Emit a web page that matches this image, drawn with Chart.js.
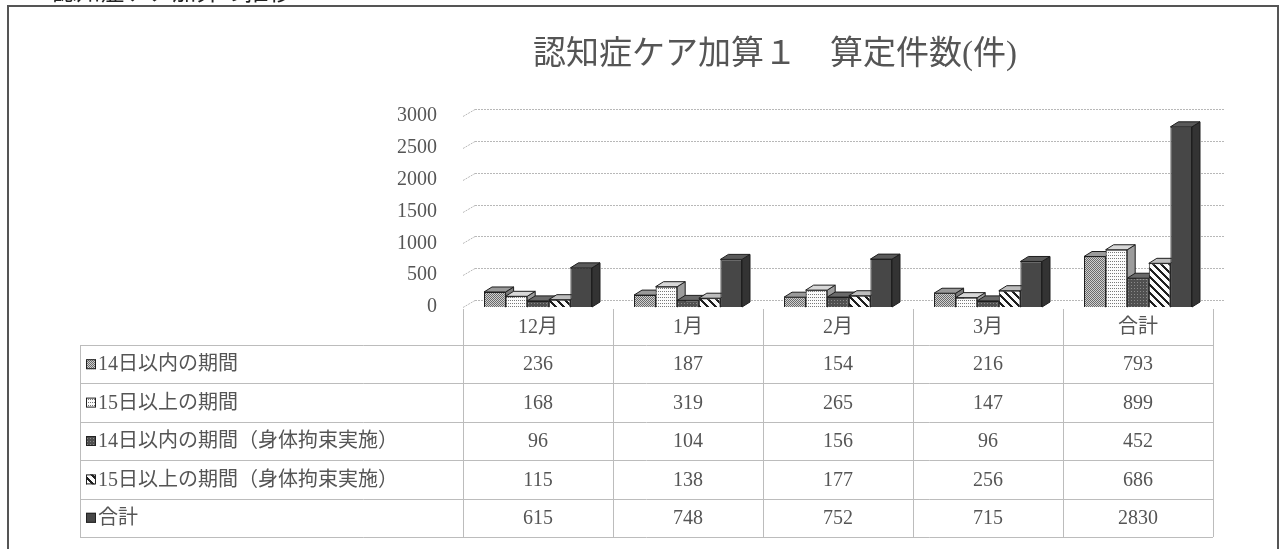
<!DOCTYPE html>
<html><head><meta charset="utf-8">
<script src="https://cdn.jsdelivr.net/npm/chart.js@4/dist/chart.umd.min.js"></script>
<style>html,body{margin:0;padding:0;background:#fff;}canvas{display:block;}</style>
</head><body>
<canvas id="c" width="1284" height="549"></canvas>
<script>
const categories = ['12月','1月','2月','3月','合計'];
const seriesNames = ['14日以内の期間','15日以上の期間','14日以内の期間（身体拘束実施）','15日以上の期間（身体拘束実施）','合計'];
const within14 = [236,187,154,216,793];
const over15 = [168,319,265,147,899];
const within14Restraint = [96,104,156,96,452];
const over15Restraint = [115,138,177,256,686];
const totals = [615,748,752,715,2830];
const seriesValues = [within14, over15, within14Restraint, over15Restraint, totals];
const yMin = 0, yMax = 3000, yStep = 500;
const chartTitle = '認知症ケア加算１　算定件数(件)';
const pageHeading = '1．認知症ケア加算の推移';

const SERIF = '"Liberation Serif","DejaVu Serif","Noto Sans CJK JP",serif';

function makePattern(w,h,fn){
  const cv=document.createElement('canvas');cv.width=w;cv.height=h;
  const g=cv.getContext('2d');
  for(let j=0;j<h;j++)for(let i=0;i<w;i++){const c=fn(i,j);g.fillStyle=c;g.fillRect(i,j,1,1);}
  return g.createPattern(cv,'repeat');
}
const pat1=makePattern(4,4,(i,j)=>((i+j)%2===0)?'#6a6a6a':'#d0d0d0');
const pat2=makePattern(4,3,(i,j)=>(j===0&&i%2===0)?'#777':'#fbfbfb');
const pat3=makePattern(3,3,(i,j)=>(i===0&&j===0)?'#8a8a8a':'#505050');
const pat4=makePattern(8,8,(i,j)=>(((i-j)%8+8)%8<3)?'#1e1e1e':'#fafafa');
const solid5='#474747';
const fills=[pat1,pat2,pat3,pat4,solid5];
const topFills=['#9a9a9a','#d8d8d8','#6a6a6a','#bdbdbd','#5a5a5a'];
const sideFills=['#7a7a7a','#9c9c9c','#3e3e3e','#8c8c8c','#333333'];

const DX=8, DY=5;     // bar depth
const WX=12, WY=7;    // back wall offset

const threeD={
  id:'threeD',
  beforeDatasetsDraw(chart){
    const c=chart.ctx, y=chart.scales.y, x=chart.scales.x;
    c.save();
    c.strokeStyle='#b8b8b8';c.lineWidth=1;c.setLineDash([2,1]);
    for(let v=yMin;v<=yMax;v+=yStep){
      const py=Math.round(y.getPixelForValue(v))+0.5;
      c.beginPath();c.moveTo(x.left+WX,py-WY);c.lineTo(x.right+WX,py-WY);c.stroke();
      c.beginPath();c.moveTo(x.left,py);c.lineTo(x.left+WX,py-WY);c.stroke();
    }
    c.setLineDash([]);
    c.strokeStyle='#1e1e1e';c.lineWidth=1;
    chart.data.datasets.forEach((ds,di)=>{
      const meta=chart.getDatasetMeta(di);
      meta.data.forEach(el=>{
        const p=el.getProps(['x','y','base','width'],true);
        const l=p.x-p.width/2, r=p.x+p.width/2, t=p.y, b=p.base;
        c.fillStyle=sideFills[di];
        c.beginPath();c.moveTo(r,t);c.lineTo(r+DX,t-DY);c.lineTo(r+DX,b-DY);c.lineTo(r,b);c.closePath();c.fill();c.stroke();
        c.fillStyle=topFills[di];
        c.beginPath();c.moveTo(l,t);c.lineTo(l+DX,t-DY);c.lineTo(r+DX,t-DY);c.lineTo(r,t);c.closePath();c.fill();c.stroke();
      });
    });
    c.restore();
  },
  afterDraw(chart){
    const c=chart.ctx, x=chart.scales.x, area=chart.chartArea;
    const n=categories.length, band=(x.right-x.left)/n;
    c.save();
    c.fillStyle='#222';c.font='24px "Noto Sans CJK JP",sans-serif';c.textBaseline='alphabetic';c.textAlign='left';
    c.fillText(pageHeading,15,0);
    c.strokeStyle='#555';c.lineWidth=2;
    c.strokeRect(8,6,1270,560);
    c.fillStyle='#555';c.font='33px '+SERIF;c.textAlign='center';c.textBaseline='middle';
    c.fillText(chartTitle,775,55);
    const tableLeft=80, rowH=38.4, headTop=area.bottom+2, bodyTop=345;
    const tRight=x.right;
    c.strokeStyle='#bcbcbc';c.lineWidth=1;
    for(let i=0;i<=n;i++){
      const px=Math.round(x.left+band*i)+0.5;
      c.beginPath();c.moveTo(px,headTop);c.lineTo(px,bodyTop);c.stroke();
    }
    const rows=seriesNames.length;
    for(let r=0;r<=rows;r++){
      const py=Math.round(bodyTop+rowH*r)+0.5;
      c.beginPath();c.moveTo(tableLeft,py);c.lineTo(tRight,py);c.stroke();
    }
    const vx=[tableLeft].concat(categories.map((_,i)=>x.left+band*i)).concat([tRight]);
    vx.forEach(v=>{const px=Math.round(v)+0.5;c.beginPath();c.moveTo(px,bodyTop);c.lineTo(px,bodyTop+rowH*rows);c.stroke();});
    c.fillStyle='#555';c.font='20px '+SERIF;c.textAlign='center';c.textBaseline='middle';
    categories.forEach((cat,i)=>c.fillText(cat,x.getPixelForTick(i),(headTop+bodyTop)/2+1));
    seriesNames.forEach((name,r)=>{
      const cy=bodyTop+rowH*r+rowH/2;
      c.fillStyle=fills[r];c.fillRect(86,cy-5,10,10);
      c.strokeStyle='#222';c.strokeRect(86.5,cy-4.5,9,9);
      c.fillStyle='#555';c.textAlign='left';c.font='20px '+SERIF;
      c.fillText(name,98,cy+1);
      c.textAlign='center';
      seriesValues[r].forEach((v,i)=>c.fillText(String(v),x.getPixelForTick(i),cy+1));
    });
    c.restore();
  }
};

new Chart(document.getElementById('c'),{
  type:'bar',
  data:{
    labels:categories,
    datasets:seriesNames.map((nm,i)=>({
      label:nm,data:seriesValues[i],backgroundColor:fills[i],
      borderColor:'#1e1e1e',borderWidth:1,
      barPercentage:1.0,categoryPercentage:0.72
    }))
  },
  options:{
    responsive:false,animation:false,
    layout:{padding:{top:116,bottom:242,left:0,right:71}},
    plugins:{legend:{display:false},title:{display:false},tooltip:{enabled:false}},
    scales:{
      x:{display:false},
      y:{min:yMin,max:yMax,
        ticks:{stepSize:yStep,padding:18,color:'#555',font:{family:SERIF,size:20},callback:(v)=>String(v)},
        grid:{display:false},border:{display:false},
        afterFit(s){s.width=463;}
      }
    }
  },
  plugins:[threeD]
});
</script>
</body></html>
